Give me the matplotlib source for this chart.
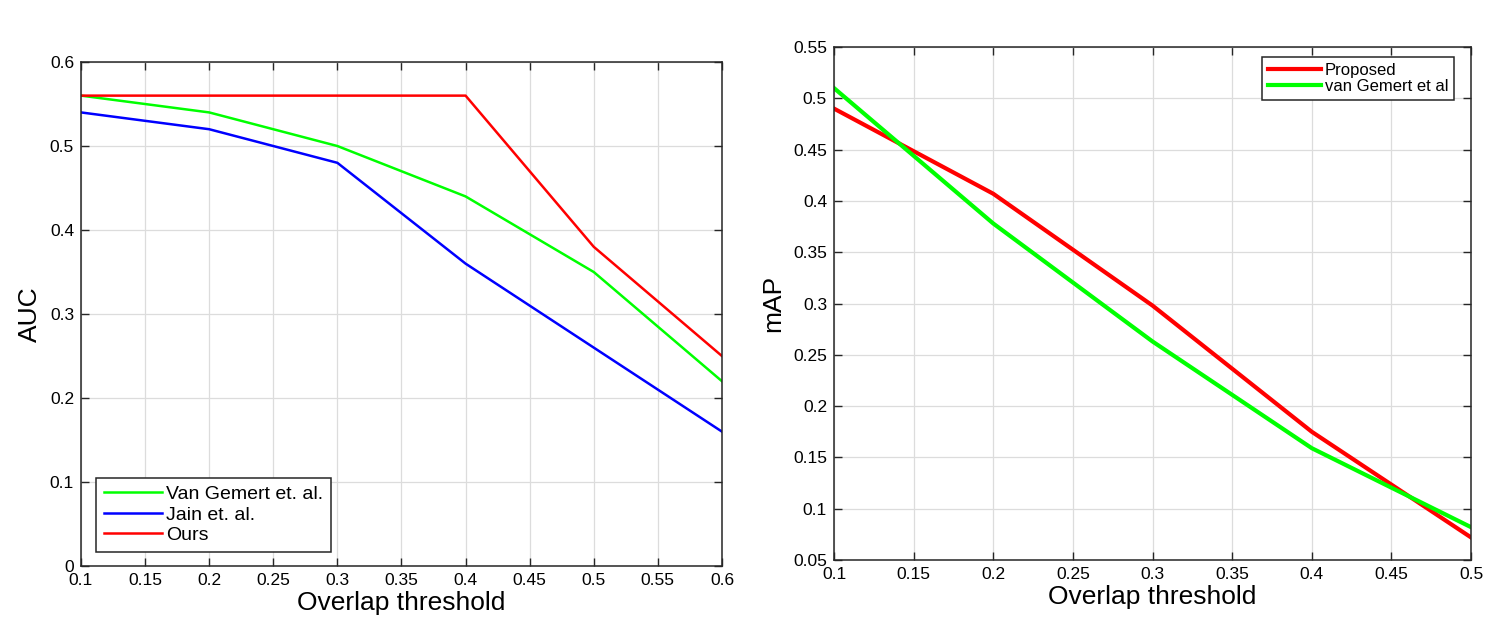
import matplotlib.pyplot as plt
import numpy as np

plt.rcParams['font.family'] = ['Liberation Sans', 'DejaVu Sans']

# left panel: AUC vs overlap threshold
thr_auc = [0.1, 0.2, 0.3, 0.4, 0.5, 0.6]
auc_gemert = [0.56, 0.54, 0.50, 0.44, 0.35, 0.22]
auc_jain = [0.54, 0.52, 0.48, 0.36, 0.26, 0.16]
auc_ours = [0.56, 0.56, 0.56, 0.56, 0.38, 0.25]

# right panel: mAP vs overlap threshold
thr_map = [0.1, 0.2, 0.3, 0.4, 0.5]
map_proposed = [0.49, 0.407, 0.298, 0.175, 0.072]
map_gemert = [0.51, 0.378, 0.263, 0.159, 0.082]

fig = plt.figure(figsize=(15, 6.19), dpi=100)
ax1 = fig.add_axes([0.054, 0.0856, 0.4273, 0.8142])
ax2 = fig.add_axes([0.556, 0.0953, 0.4247, 0.8287])


def matlab_style(ax):
    ax.grid(True, color='#dcdcdc', linewidth=0.9)
    ax.set_axisbelow(True)
    ax.tick_params(direction='in', top=True, right=True, labelsize=12.5,
                   length=6, width=1, color='#262626', pad=5)
    for s in ax.spines.values():
        s.set_linewidth(1.1)
        s.set_color('#262626')


ax1.plot(thr_auc, auc_gemert, color='#00ff00', lw=1.8, label='Van Gemert et. al.')
ax1.plot(thr_auc, auc_jain, color='#0000ff', lw=1.8, label='Jain et. al.')
ax1.plot(thr_auc, auc_ours, color='#ff0000', lw=1.8, label='Ours')
ax1.set_xlim(0.1, 0.6)
ax1.set_ylim(0, 0.6)
ax1.set_xticks(np.arange(0.1, 0.601, 0.05))
ax1.set_xticklabels(['0.1', '0.15', '0.2', '0.25', '0.3', '0.35', '0.4', '0.45', '0.5', '0.55', '0.6'])
ax1.set_yticks(np.arange(0, 0.601, 0.1))
ax1.set_yticklabels(['0', '0.1', '0.2', '0.3', '0.4', '0.5', '0.6'])
ax1.set_xlabel('Overlap threshold', fontsize=19, labelpad=2)
ax1.set_ylabel('AUC', fontsize=19, labelpad=6)
matlab_style(ax1)
leg1 = ax1.legend(loc='lower left', bbox_to_anchor=(0.024, 0.028), fontsize=14,
                  fancybox=False, framealpha=1, edgecolor='#262626',
                  handlelength=3.0, handletextpad=0.2, labelspacing=0.15,
                  borderpad=0.4, borderaxespad=0)
leg1.get_frame().set_linewidth(1.1)

ax2.plot(thr_map, map_proposed, color='#ff0000', lw=3, label='Proposed')
ax2.plot(thr_map, map_gemert, color='#00ff00', lw=3, label='van Gemert et al')
ax2.set_xlim(0.1, 0.5)
ax2.set_ylim(0.05, 0.55)
ax2.set_xticks(np.arange(0.1, 0.501, 0.05))
ax2.set_xticklabels(['0.1', '0.15', '0.2', '0.25', '0.3', '0.35', '0.4', '0.45', '0.5'])
ax2.set_yticks(np.arange(0.05, 0.551, 0.05))
ax2.set_yticklabels(['0.05', '0.1', '0.15', '0.2', '0.25', '0.3', '0.35', '0.4', '0.45', '0.5', '0.55'])
ax2.set_xlabel('Overlap threshold', fontsize=19, labelpad=2)
ax2.set_ylabel('mAP', fontsize=19, labelpad=6)
matlab_style(ax2)
leg2 = ax2.legend(loc='upper right', bbox_to_anchor=(0.973, 0.981), fontsize=12,
                  fancybox=False, framealpha=1, edgecolor='#262626',
                  handlelength=3.2, handletextpad=0.2, labelspacing=0.1,
                  borderpad=0.35, borderaxespad=0)
leg2.get_frame().set_linewidth(1.1)

fig.savefig('out.png', dpi=100, facecolor='white')
